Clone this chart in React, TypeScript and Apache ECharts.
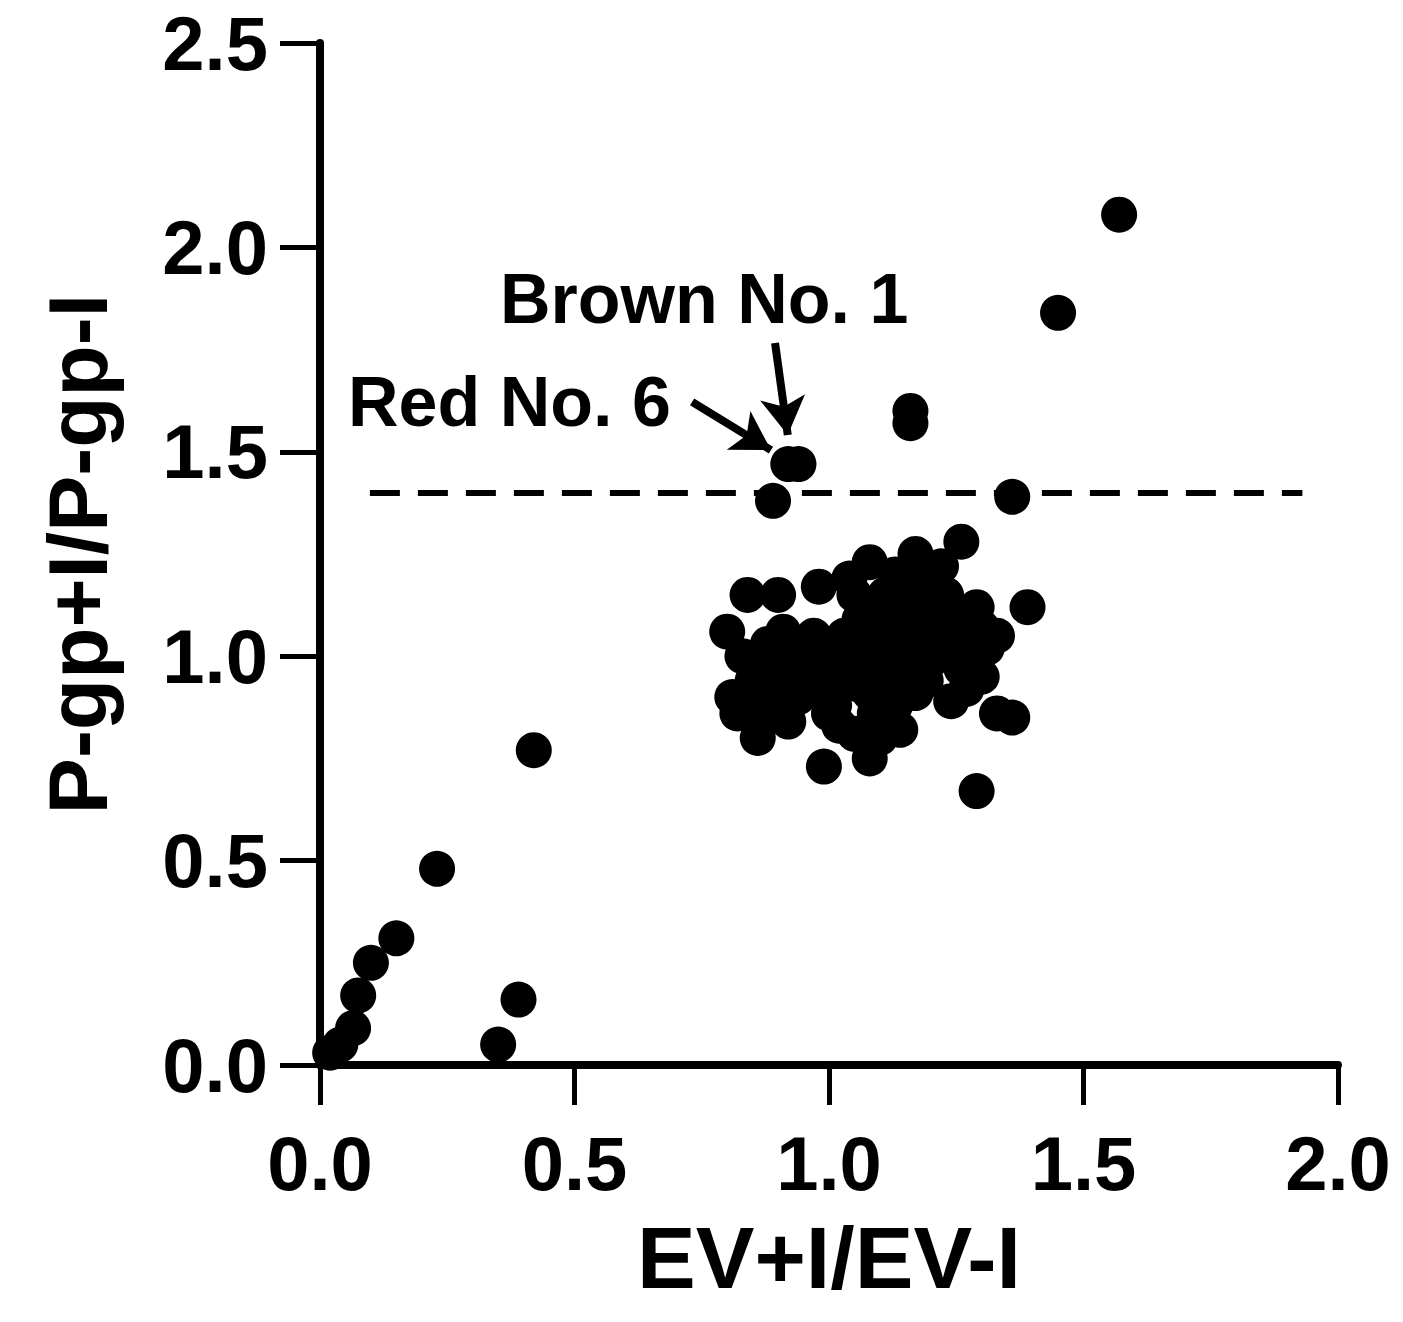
import React, { useEffect, useRef } from "react";
import * as echarts from "echarts";

const xTicks = ["0.0", "0.5", "1.0", "1.5", "2.0"];
const yTicks = ["0.0", "0.5", "1.0", "1.5", "2.0", "2.5"];
const xName = "EV+I/EV-I";
const yName = "P-gp+I/P-gp-I";
const threshold = 1.4;

const outlierPoints: number[][] = [
  [1.57, 2.08], [1.45, 1.84], [1.16, 1.6], [1.16, 1.57], [0.92, 1.47], [0.94, 1.47],
  [0.89, 1.38], [1.36, 1.39], [1.39, 1.12], [1.29, 0.67], [0.99, 0.73], [1.08, 0.75], [0.98, 1.17],
];
const lowPoints: number[][] = [
  [0.23, 0.48], [0.42, 0.77], [0.39, 0.16], [0.35, 0.05], [0.15, 0.31], [0.1, 0.25],
  [0.075, 0.17], [0.065, 0.09], [0.04, 0.05], [0.02, 0.03],
];
const clusterPoints: number[][] = [
  [0.84, 1.15], [0.9, 1.15], [0.8, 1.06], [0.91, 1.06], [1.08, 1.23], [1.26, 1.28], [1.29, 1.12],
  [1.31, 1.02], [1.18, 1.2], [1.2, 1.12], [0.82, 0.86], [0.86, 0.8], [0.92, 0.84], [1.33, 0.86],
  [1.24, 0.89], [1.05, 0.81], [1.13, 0.88], [1.0, 1.02], [0.96, 0.94], [0.88, 0.98], [0.85, 0.94],
  [1.06, 1.09], [1.11, 1.15], [1.11, 1.01], [1.17, 0.99], [1.22, 1.06], [1.28, 1.06], [1.06, 0.93],
  [1.09, 0.86], [1.19, 0.94], [1.01, 0.88], [0.94, 0.9], [1.14, 1.09], [1.17, 1.25], [1.04, 1.19],
  [1.2, 0.99], [1.26, 0.97], [0.98, 0.96], [1.36, 0.85], [1.1, 0.8], [1.17, 0.91], [1.09, 0.97],
  [1.02, 0.97], [1.11, 1.05],
  [0.88, 1.03], [0.93, 0.98], [0.97, 1.05], [1.0, 0.92], [1.03, 1.05], [1.05, 1.0], [1.08, 1.12],
  [1.12, 0.93], [1.15, 1.03], [1.15, 1.15], [1.2, 1.05], [1.23, 1.15], [1.25, 1.02], [1.27, 0.92],
  [1.3, 0.95], [1.13, 1.2], [1.22, 1.22], [1.08, 1.05], [0.95, 1.0], [0.9, 0.93], [0.87, 0.88],
  [1.02, 0.83], [1.14, 0.82], [1.24, 1.1], [1.18, 1.08], [1.3, 1.07], [1.33, 1.05], [1.05, 1.15],
  [0.83, 1.0], [0.89, 0.87], [0.81, 0.9], [0.93, 1.03], [1.0, 0.86], [1.08, 0.91], [1.13, 0.97],
];
const annotations = [
  { text: "Brown No. 1", from: [0.894, 1.766], to: [0.919, 1.541] },
  { text: "Red No. 6", from: [0.731, 1.622], to: [0.886, 1.504] },
];

const FONT = "'Liberation Sans', Arial, sans-serif";

export default function App() {
  const ref = useRef<HTMLDivElement>(null);
  useEffect(() => {
    if (!ref.current) return;
    const chart = echarts.init(ref.current, null, { renderer: "svg" });
    const allPoints = [...lowPoints, ...clusterPoints, ...outlierPoints];
    const axisCommon = {
      type: "value" as const,
      interval: 0.5,
      axisLine: { show: true, onZero: false, lineStyle: { color: "#000", width: 8 } },
      axisTick: { show: true, inside: false, length: 40, lineStyle: { color: "#000", width: 5 } },
      splitLine: { show: false },
      nameLocation: "middle" as const,
    };
    chart.setOption({
      animation: false,
      backgroundColor: "#fff",
      grid: { left: 320, right: 65, top: 43, bottom: 257, containLabel: false },
      xAxis: {
        ...axisCommon,
        min: 0,
        max: 2,
        name: xName,
        nameGap: 148,
        nameTextStyle: { fontFamily: FONT, fontWeight: "bold", fontSize: 88, color: "#000" },
        axisLabel: {
          margin: 68,
          fontFamily: FONT,
          fontWeight: "bold",
          fontSize: 76,
          lineHeight: 60,
          color: "#000",
          formatter: (v: number) => xTicks[Math.round(v / 0.5)] ?? "",
        },
      },
      yAxis: {
        ...axisCommon,
        min: 0,
        max: 2.5,
        name: yName,
        nameGap: 200,
        nameRotate: 90,
        nameTextStyle: { fontFamily: FONT, fontWeight: "bold", fontSize: 84, color: "#000" },
        axisLabel: {
          margin: 52,
          fontFamily: FONT,
          fontWeight: "bold",
          fontSize: 76,
          lineHeight: 60,
          color: "#000",
          formatter: (v: number) => yTicks[Math.round(v / 0.5)] ?? "",
        },
      },
      series: [
        {
          type: "scatter",
          data: allPoints,
          symbol: "circle",
          symbolSize: 36,
          itemStyle: { color: "#000", opacity: 1 },
          markLine: {
            silent: true,
            symbol: ["none", "none"],
            label: { show: false },
            lineStyle: { color: "#000", type: [30, 18], width: 6 },
            data: [[{ coord: [0.098, threshold] }, { coord: [1.93, threshold] }]],
          },
        },
        {
          type: "scatter",
          data: [],
          markLine: {
            silent: true,
            symbol: ["none", "arrow"],
            symbolSize: [34, 38],
            label: { show: false },
            lineStyle: { color: "#000", type: "solid", width: 8 },
            data: annotations.map((a) => [{ coord: a.from }, { coord: a.to }]),
          },
        },
      ],
      graphic: [
        {
          type: "text",
          left: 500,
          top: 264,
          style: { text: annotations[0].text, fontFamily: FONT, fontWeight: "bold", fontSize: 70, fill: "#000" },
        },
        {
          type: "text",
          left: 348,
          top: 367,
          style: { text: annotations[1].text, fontFamily: FONT, fontWeight: "bold", fontSize: 70, fill: "#000" },
        },
      ],
    });
    return () => chart.dispose();
  }, []);
  return (
    <div
      ref={ref}
      style={{ position: "absolute", left: 0, top: 0, width: 1403, height: 1322 }}
    />
  );
}
